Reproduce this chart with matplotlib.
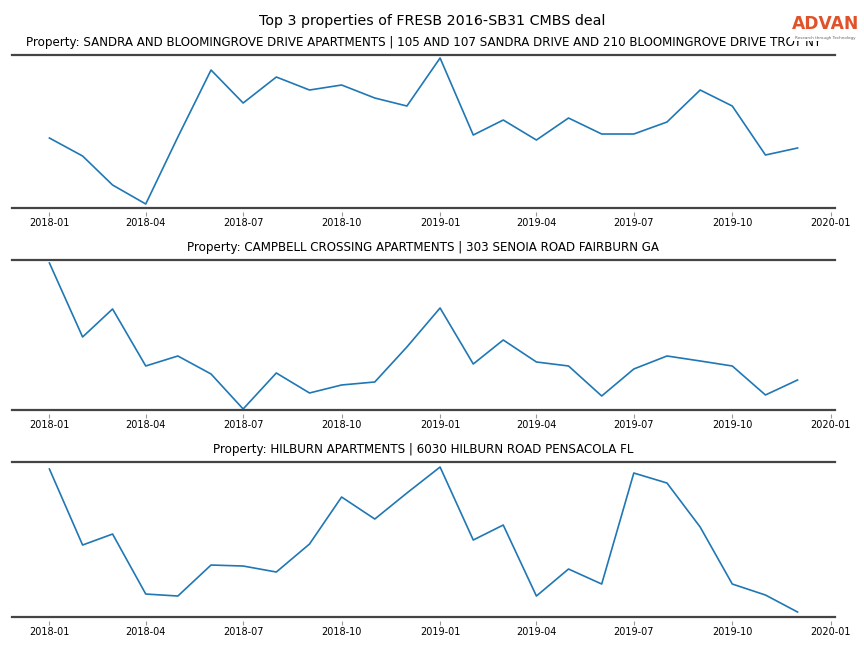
import matplotlib
matplotlib.use("Agg")
import matplotlib.pyplot as plt
import matplotlib.dates as mdates
import pandas as pd
from matplotlib.patches import Rectangle

months = pd.date_range("2018-01-01", "2019-12-01", freq="MS")

titles = [
    "Property: SANDRA AND BLOOMINGROVE DRIVE APARTMENTS | 105 AND 107 SANDRA DRIVE AND 210 BLOOMINGROVE DRIVE TROY NY",
    "Property: CAMPBELL CROSSING APARTMENTS | 303 SENOIA ROAD FAIRBURN GA",
    "Property: HILBURN APARTMENTS | 6030 HILBURN ROAD PENSACOLA FL",
]

sandra = [70, 52, 23, 4, 71, 138, 105, 131, 118, 123, 110, 102,
          150, 73, 88, 68, 90, 74, 74, 86, 118, 102, 53, 60]
campbell = [147, 73, 101, 44, 54, 36, 1, 37, 17, 25, 28, 63,
            102, 46, 70, 48, 44, 14, 41, 54, 49, 44, 15, 30]
hilburn = [148, 72, 83, 23, 21, 52, 51, 45, 73, 120, 98, 124,
           150, 77, 92, 21, 48, 33, 144, 134, 90, 33, 22, 5]

series = [sandra, campbell, hilburn]
ylims = [(0, 153), (0, 150), (0, 155)]

fig = plt.figure(figsize=(8.64, 6.48), dpi=100)

positions = [
    [0.0139, 0.6790, 0.9525, 0.2361],
    [0.0139, 0.3673, 0.9525, 0.2315],
    [0.0139, 0.0478, 0.9525, 0.2392],
]

spine_color = "#444444"
for pos, vals, title, yl in zip(positions, series, titles, ylims):
    ax = fig.add_axes(pos)
    ax.plot(months, vals, color="#1f77b4", lw=1.2)
    ax.set_ylim(*yl)
    ax.set_yticks([])
    ax.spines["left"].set_visible(False)
    ax.spines["right"].set_visible(False)
    ax.spines["top"].set_color(spine_color)
    ax.spines["top"].set_linewidth(1.6)
    ax.spines["bottom"].set_position(("outward", 3))
    ax.spines["bottom"].set_visible(False)
    ax.axhline(yl[0], color=spine_color, lw=1.6, clip_on=False)
    ax.xaxis.set_major_locator(mdates.MonthLocator(bymonth=[1, 4, 7, 10]))
    ax.xaxis.set_major_formatter(mdates.DateFormatter("%Y-%m"))
    ax.tick_params(axis="x", labelsize=7, length=3, width=0.8,
                   color="#999999", pad=1.5)
    ax.set_title(title, fontsize=8.6, pad=6.5)

fig.suptitle("Top 3 properties of FRESB 2016-SB31 CMBS deal", fontsize=10.3, y=0.979)

# logo
fig.patches.append(Rectangle((790 / 864, 1 - 41 / 648), 74 / 864, 27 / 648,
                             transform=fig.transFigure, facecolor="white",
                             edgecolor="none", zorder=5))
fig.text(825.5 / 864, 1 - 24 / 648, "ADVAN", color="#e0532a", fontsize=12.3,
         fontweight="bold", ha="center", va="center", zorder=6)
fig.text(825 / 864, 1 - 38.5 / 648, "Research through Technology", color="#666666",
         fontsize=3, ha="center", va="center", zorder=6)

fig.savefig("out.png", dpi=100)
